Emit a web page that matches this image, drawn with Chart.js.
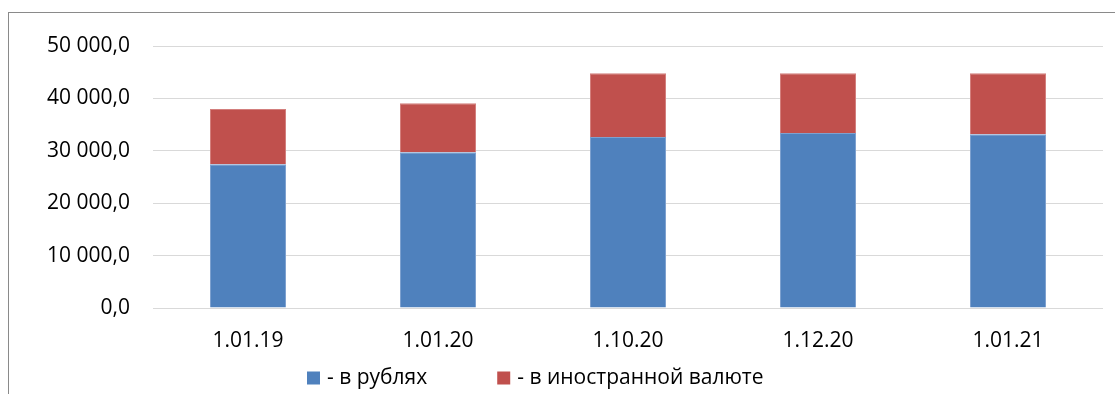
<!DOCTYPE html>
<html lang="ru">
<head>
<meta charset="utf-8">
<script src="https://cdn.jsdelivr.net/npm/chart.js@4.4.1/dist/chart.umd.min.js"></script>
<style>
  html, body { margin: 0; padding: 0; background: #ffffff; overflow: hidden; }
  #wrap { position: relative; width: 1115px; height: 394px; overflow: hidden; }
  #frame {
    position: absolute; left: 8px; top: 12px; width: 1200px; height: 500px;
    border: 1px solid #8a8a8a; box-sizing: border-box;
  }
  #chart { position: absolute; left: 0; top: 0; }
</style>
</head>
<body>
<div id="wrap">
  <div id="frame"></div>
  <canvas id="chart" width="1115" height="394"></canvas>
</div>
<script>
// Даты отчётных периодов
const categories = ['1.01.19', '1.01.20', '1.10.20', '1.12.20', '1.01.21'];
// Остатки в рублях
const rubValues = [27450, 29740, 32650, 33420, 33170];
// Остатки в иностранной валюте
const fxValues = [10540, 9340, 12150, 11380, 11630];
// Подписи делений оси значений
const yTickLabels = ['0,0', '10 000,0', '20 000,0', '30 000,0', '40 000,0', '50 000,0'];
const seriesNames = ['- в рублях', '- в иностранной валюте'];

const FONT = "'Open Sans', 'Liberation Sans', sans-serif";

// Легенда под графиком: квадратный маркер и подпись для каждого ряда
const bottomLegend = {
  id: 'bottomLegend',
  afterDraw(chart) {
    const ctx = chart.ctx;
    const box = 13;
    const gapAfterBox = 7;
    const gapBetween = 70;
    const yMid = 378;
    let x = 307;
    ctx.save();
    ctx.font = '21px ' + FONT;
    ctx.textBaseline = 'middle';
    ctx.textAlign = 'left';
    chart.data.datasets.forEach((ds) => {
      ctx.fillStyle = ds.backgroundColor;
      ctx.fillRect(x, yMid - box / 2, box, box);
      x += box + gapAfterBox;
      ctx.fillStyle = '#000000';
      ctx.fillText(ds.label, x, yMid);
      x += ctx.measureText(ds.label).width + gapBetween;
    });
    ctx.restore();
  }
};

new Chart(document.getElementById('chart'), {
  type: 'bar',
  data: {
    labels: categories,
    datasets: [
      {
        label: seriesNames[0],
        data: rubValues,
        backgroundColor: '#4f81bd',
        borderColor: '#7ea1cf',
        borderWidth: 1
      },
      {
        label: seriesNames[1],
        data: fxValues,
        backgroundColor: '#c0504d',
        borderColor: '#d37f7d',
        borderWidth: 1
      }
    ]
  },
  options: {
    responsive: false,
    animation: false,
    devicePixelRatio: 1,
    layout: { padding: { left: 0, right: 12, top: 46, bottom: 0 } },
    plugins: {
      legend: { display: false },
      tooltip: { enabled: false }
    },
    datasets: {
      bar: { categoryPercentage: 1.0, barPercentage: 0.4 }
    },
    scales: {
      x: {
        stacked: true,
        grid: { display: false, drawTicks: false },
        border: { display: false },
        ticks: {
          color: '#000000',
          font: { family: FONT, size: 21 },
          padding: 20,
          maxRotation: 0
        },
        afterFit(scale) { scale.height = 86; }
      },
      y: {
        stacked: true,
        min: 0,
        max: 50000,
        grid: { color: '#d9d9d9', lineWidth: 1, drawTicks: false },
        border: { display: false },
        ticks: {
          stepSize: 10000,
          color: '#000000',
          font: { family: FONT, size: 21 },
          padding: 23,
          callback: (value, index) => yTickLabels[index]
        },
        afterFit(scale) { scale.width = 153; }
      }
    }
  },
  plugins: [bottomLegend]
});
</script>
</body>
</html>
